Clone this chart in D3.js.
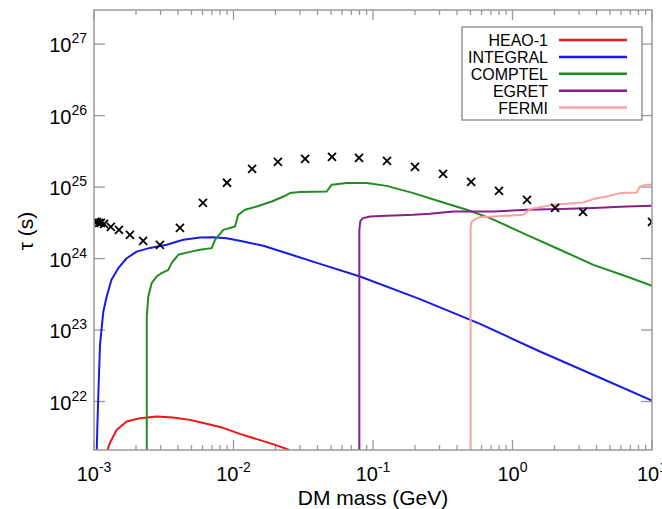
<!DOCTYPE html>
<html>
<head>
<meta charset="utf-8">
<script src="https://cdn.jsdelivr.net/npm/d3@7"></script>
<style>
  html, body { margin: 0; padding: 0; background: #fff; }
  svg { display: block; font-family: "Liberation Sans", Arial, Helvetica, sans-serif; }
</style>
</head>
<body>
<svg id="chart" width="662" height="509"></svg>
<script>
// ---------- data (DM mass in GeV, lifetime tau in s) ----------
const seriesNames = ["HEAO-1", "INTEGRAL", "COMPTEL", "EGRET", "FERMI"];
const seriesColors = ["#ee1515", "#1a1ae6", "#228b22", "#8a1f8a", "#f8a2a2"];

const heao1 = [
  [1.23e-3, 1.8e21], [1.245e-3, 2.06e21], [1.30e-3, 2.64e21], [1.456e-3, 4.02e21],
  [1.715e-3, 5.25e21], [2.14e-3, 5.86e21], [2.81e-3, 6.17e21], [3.68e-3, 5.97e21],
  [4.87e-3, 5.54e21], [6.42e-3, 4.88e21], [8.41e-3, 4.29e21], [1.11e-2, 3.53e21],
  [1.47e-2, 2.98e21], [1.92e-2, 2.54e21], [2.51e-2, 2.11e21]
];
const integral = [
  [1.042e-3, 1.5e21], [1.059e-3, 5.04e21], [1.077e-3, 1.46e22], [1.104e-3, 6.21e22],
  [1.135e-3, 1.07e23], [1.166e-3, 1.80e23], [1.233e-3, 2.94e23], [1.334e-3, 5.04e23],
  [1.493e-3, 7.35e23], [1.714e-3, 1.01e24], [2.023e-3, 1.25e24], [2.52e-3, 1.41e24],
  [3.32e-3, 1.56e24], [4.37e-3, 1.83e24], [5.75e-3, 1.97e24], [7.16e-3, 1.995e24],
  [8.93e-3, 1.93e24], [1.175e-2, 1.73e24], [1.636e-2, 1.51e24], [2.54e-2, 1.15e24],
  [4.17e-2, 8.44e23], [8.07e-2, 5.61e23], [0.217, 2.71e23], [0.585, 1.22e23],
  [1.574, 5.01e22], [4.24, 2.15e22], [10, 1.03e22]
];
const comptel = [
  [2.39e-3, 1.5e21], [2.39e-3, 1.55e23], [2.45e-3, 2.94e23], [2.59e-3, 4.53e23],
  [2.81e-3, 5.61e23], [3.05e-3, 6.25e23], [3.41e-3, 6.96e23], [3.60e-3, 8.63e23],
  [4.02e-3, 1.13e24], [4.87e-3, 1.24e24], [5.75e-3, 1.33e24], [6.98e-3, 1.40e24],
  [7.37e-3, 1.83e24], [8.45e-3, 2.52e24], [1.025e-2, 2.81e24], [1.08e-2, 4.09e24],
  [1.208e-2, 4.81e24], [1.466e-2, 5.35e24], [1.88e-2, 6.28e24], [2.28e-2, 7.38e24],
  [2.54e-2, 8.24e24], [3.00e-2, 8.51e24], [4.66e-2, 8.67e24], [5.06e-2, 1.08e25],
  [6.48e-2, 1.14e25], [9.01e-2, 1.14e25], [0.125, 1.04e25], [0.195, 8.24e24],
  [0.302, 6.28e24], [0.470, 4.81e24], [0.690, 3.68e24], [1.265, 2.15e24],
  [2.19, 1.33e24], [3.80, 8.17e23], [6.59, 5.61e23], [10, 4.16e23]
];
const egret = [
  [7.98e-2, 1.5e21], [7.98e-2, 2.52e24], [8.12e-2, 3.37e24], [8.49e-2, 3.68e24],
  [9.51e-2, 3.87e24], [0.125, 3.96e24], [0.195, 4.09e24], [0.256, 4.23e24],
  [0.377, 4.55e24], [0.585, 4.55e24], [0.728, 4.55e24], [1.265, 4.81e24],
  [2.19, 4.92e24], [3.80, 5.08e24], [6.59, 5.35e24], [10, 5.47e24]
];
const fermi = [
  [0.501, 1.5e21], [0.501, 2.69e24], [0.509, 3.27e24], [0.538, 3.56e24],
  [0.585, 3.80e24], [0.728, 3.87e24], [1.194, 4.09e24], [1.334, 4.92e24],
  [1.963, 5.65e24], [3.22, 6.08e24], [3.80, 6.79e24], [4.73, 7.38e24],
  [5.90, 8.24e24], [7.77, 8.39e24], [8.20, 1.02e25], [9.16, 1.08e25], [10, 1.08e25]
];
const crosses = [
  [1.016e-3, 3.26e24], [1.05e-3, 3.26e24], [1.09e-3, 3.16e24], [1.12e-3, 3.16e24],
  [1.18e-3, 3.05e24], [1.32e-3, 2.77e24], [1.51e-3, 2.52e24], [1.81e-3, 2.14e24],
  [2.25e-3, 1.77e24], [2.97e-3, 1.56e24], [4.13e-3, 2.69e24], [6.04e-3, 6.0e24],
  [8.98e-3, 1.15e25], [1.36e-2, 1.80e25], [2.08e-2, 2.25e25], [3.26e-2, 2.48e25],
  [5.08e-2, 2.64e25], [7.94e-2, 2.56e25], [0.126, 2.32e25], [0.200, 1.92e25],
  [0.318, 1.53e25], [0.505, 1.18e25], [0.80, 8.85e24], [1.27, 6.62e24],
  [2.02, 5.12e24], [3.20, 4.50e24], [10, 3.26e24]
];
const xTickExps = [-3, -2, -1, 0, 1];
const yTickExps = [22, 23, 24, 25, 26, 27];
const xTitle = "DM mass (GeV)";
const yTitle = "τ (s)";

// ---------- layout ----------
const svg = d3.select("#chart");
const L = 94, R = 652, T = 10, B = 450;
const x = d3.scaleLog().domain([1e-3, 10]).range([L, R]);
const y = d3.scaleLog().domain([2.1e21, 3e27]).range([B, T]);
const frameColor = "#9a9a9a";

svg.append("defs").append("clipPath").attr("id", "clip")
  .append("rect").attr("x", L).attr("y", T).attr("width", R - L).attr("height", B - T);

// minor / major x ticks (bottom + top, inward)
const xMinor = [];
for (let e = -3; e < 1; e++) for (let k = 2; k <= 9; k++) xMinor.push(k * Math.pow(10, e));
const xMajor = xTickExps.map(e => Math.pow(10, e));
const yMajor = yTickExps.map(e => Math.pow(10, e));

const axisBottom = d3.axisBottom(x).tickValues(xMinor).tickSize(0).tickFormat("");
const ticks = svg.append("g").attr("stroke", frameColor).attr("stroke-width", 1.3);
xMinor.forEach(v => {
  ticks.append("line").attr("x1", x(v)).attr("x2", x(v)).attr("y1", B).attr("y2", B - 5);
  ticks.append("line").attr("x1", x(v)).attr("x2", x(v)).attr("y1", T).attr("y2", T + 5);
});
xMajor.forEach(v => {
  ticks.append("line").attr("x1", x(v)).attr("x2", x(v)).attr("y1", B).attr("y2", B - 10);
  ticks.append("line").attr("x1", x(v)).attr("x2", x(v)).attr("y1", T).attr("y2", T + 10);
});
yMajor.forEach(v => {
  ticks.append("line").attr("x1", L).attr("x2", L + 11).attr("y1", y(v)).attr("y2", y(v));
  ticks.append("line").attr("x1", R).attr("x2", R - 11).attr("y1", y(v)).attr("y2", y(v));
});

// tick labels
const xl = svg.append("g").attr("font-size", 20).attr("fill", "#000");
xTickExps.forEach(e => {
  const t = xl.append("text").attr("x", x(Math.pow(10, e))).attr("y", B + 31)
    .attr("text-anchor", "middle");
  t.append("tspan").text("10");
  t.append("tspan").attr("dy", -9).attr("font-size", 14).text(String(e).replace("-", "-"));
});
const yl = svg.append("g").attr("font-size", 20).attr("fill", "#000");
yTickExps.forEach(e => {
  const t = yl.append("text").attr("x", L - 7).attr("y", y(Math.pow(10, e)) + 8)
    .attr("text-anchor", "end");
  t.append("tspan").text("10");
  t.append("tspan").attr("dy", -9).attr("font-size", 14).text(String(e));
});

// axis titles
svg.append("text").attr("x", (L + R) / 2).attr("y", 505).attr("text-anchor", "middle")
  .attr("font-size", 21).text(xTitle);
svg.append("text").attr("transform", "translate(33,231) rotate(-90)")
  .attr("text-anchor", "middle").attr("font-size", 21).text(yTitle);

// curves
const plot = svg.append("g").attr("clip-path", "url(#clip)");
const line = d3.line().x(d => x(d[0])).y(d => y(d[1]));
const allSeries = [heao1, integral, comptel, egret, fermi];
allSeries.forEach((s, i) => {
  plot.append("path").datum(s).attr("d", line).attr("fill", "none")
    .attr("stroke", seriesColors[i]).attr("stroke-width", 2)
    .attr("stroke-linejoin", "round");
});

// cross markers
const cs = 4;
const cg = plot.append("g").attr("stroke", "#000").attr("stroke-width", 1.8);
crosses.forEach(d => {
  const cx = x(d[0]), cy = y(d[1]);
  cg.append("line").attr("x1", cx - cs).attr("y1", cy - cs).attr("x2", cx + cs).attr("y2", cy + cs);
  cg.append("line").attr("x1", cx - cs).attr("y1", cy + cs).attr("x2", cx + cs).attr("y2", cy - cs);
});

// frame
svg.append("rect").attr("x", L).attr("y", T).attr("width", R - L).attr("height", B - T)
  .attr("fill", "none").attr("stroke", frameColor).attr("stroke-width", 1.5);

// legend
const lg = svg.append("g");
lg.append("rect").attr("x", 462).attr("y", 27).attr("width", 180).attr("height", 93)
  .attr("fill", "#fff").attr("stroke", "#888").attr("stroke-width", 1.3);
seriesNames.forEach((n, i) => {
  const cy = 40 + i * 16.9;
  lg.append("text").attr("x", 548).attr("y", cy + 6).attr("text-anchor", "end")
    .attr("font-size", 16).text(n);
  lg.append("line").attr("x1", 559).attr("x2", 627).attr("y1", cy).attr("y2", cy)
    .attr("stroke", seriesColors[i]).attr("stroke-width", 2.5);
});
</script>
</body>
</html>
